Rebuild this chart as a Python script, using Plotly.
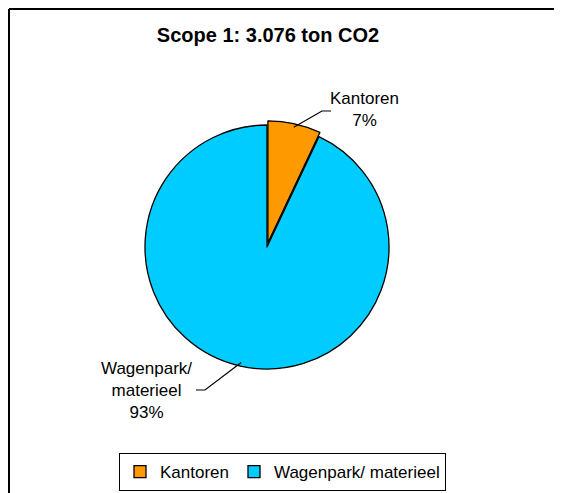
import math
import plotly.graph_objects as go

# ---- data ----
categories = ["Kantoren", "Wagenpark/ materieel"]
label_lines = ["Kantoren", "Wagenpark/<br>materieel"]
values = [7, 93]
colors = ["#FF9900", "#00CCFF"]
pulls = [0.035, 0.0]
title_text = "Scope 1: 3.076 ton CO2"

# ---- layout geometry (page pixels; the page body adds an 8px offset) ----
W, H = 562, 493
OFF = 8
FONT = "Arial, Liberation Sans, sans-serif"
PIE_CX, PIE_CY, PIE_R = 267, 247, 122


def fx(x):
    return (x - OFF) / W


def fy(y):
    return 1 - (y - OFF) / H


S = 2 * PIE_R * (1 + max(pulls))  # domain box size so plotly gives radius PIE_R
dom_x = [fx(PIE_CX - S / 2), fx(PIE_CX + S / 2)]
dom_y = [fy(PIE_CY + S / 2), fy(PIE_CY - S / 2)]

fig = go.Figure(go.Pie(
    labels=categories,
    values=values,
    sort=False,
    direction="clockwise",
    rotation=0,
    pull=pulls,
    domain=dict(x=dom_x, y=dom_y),
    marker=dict(colors=colors, line=dict(color="black", width=1.3)),
    textinfo="none",
    hoverinfo="label+percent",
    showlegend=True,
))

total = sum(values)
cum = 0
mids = []
for v in values:
    mids.append((cum + v / 2) / total * 2 * math.pi)
    cum += v

# label text positions / leader elbows (layout, page px)
text_pos = [(364, 110), (146, 390)]
elbows = [[(322, 111), (331, 111)], [(205, 390), (196, 390)]]

annotations = []
shapes = []
for i, cat in enumerate(categories):
    pct = round(values[i] / total * 100)
    tx, ty = text_pos[i]
    annotations.append(dict(
        x=fx(tx), y=fy(ty), xref="paper", yref="paper",
        text=f"{label_lines[i]}<br>{pct}%", showarrow=False,
        font=dict(family=FONT, size=17, color="black"),
        xanchor="center", yanchor="middle", align="center",
    ))
    a = mids[i]
    ccx = PIE_CX + pulls[i] * PIE_R * math.sin(a)
    ccy = PIE_CY - pulls[i] * PIE_R * math.cos(a)
    sx = ccx + PIE_R * 0.97 * math.sin(a)
    sy = ccy - PIE_R * 0.97 * math.cos(a)
    pts = [(sx, sy)] + elbows[i]
    path = "M " + " L ".join(f"{fx(x):.5f},{fy(y):.5f}" for x, y in pts)
    shapes.append(dict(type="path", path=path, xref="paper", yref="paper",
                       line=dict(color="black", width=1.2)))

# chart frame (top and left edges visible)
shapes.append(dict(type="line", xref="paper", yref="paper",
                   x0=fx(9), y0=fy(9), x1=fx(W + 20), y1=fy(9),
                   line=dict(color="black", width=2)))
shapes.append(dict(type="line", xref="paper", yref="paper",
                   x0=fx(9), y0=fy(9), x1=fx(9), y1=fy(H + 20),
                   line=dict(color="black", width=2)))

fig.update_layout(
    width=W, height=H,
    margin=dict(l=0, r=0, t=0, b=0, autoexpand=False),
    paper_bgcolor="white", plot_bgcolor="white",
    title=dict(text=f"<b>{title_text}</b>", x=fx(268), xref="paper", xanchor="center",
               y=fy(35), yref="paper", yanchor="middle",
               font=dict(family=FONT, size=20, color="black")),
    legend=dict(orientation="h", x=fx(282.5), y=fy(472), xref="paper", yref="paper",
                xanchor="center", yanchor="middle",
                bordercolor="black", borderwidth=1, bgcolor="white",
                font=dict(family=FONT, size=17, color="black"),
                itemwidth=30, traceorder="normal"),
    annotations=annotations,
    shapes=shapes,
)

fig.write_html("out.html")
